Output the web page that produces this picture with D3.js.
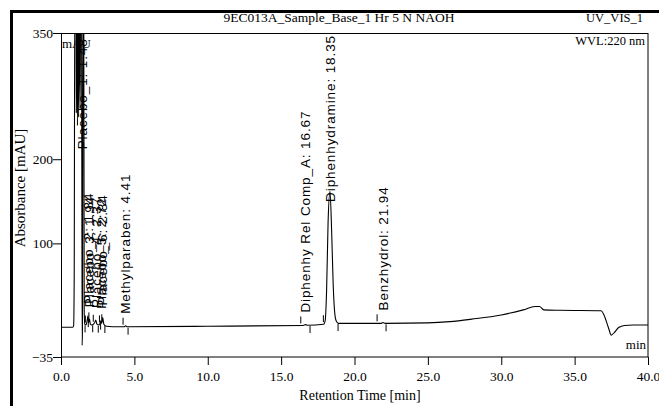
<!DOCTYPE html>
<html>
<head>
<meta charset="utf-8">
<script src="https://cdn.jsdelivr.net/npm/d3@7"></script>
<style>
  body { margin: 0; background: #fff; }
  svg { display: block; }
  .serif { font-family: "Liberation Serif", "Times New Roman", serif; }
  .lab { font-family: "Liberation Sans", Arial, sans-serif; font-size: 13.5px; letter-spacing: 0.9px; }
</style>
</head>
<body>
<div id="chart"></div>
<script>
// chromatogramme UV 220 nm

const width = 659;
const height = 406;

// trace : temps (min) et absorbance (mAU), 400 = hors échelle
const traceTime = [0.0, 0.80, 0.86, 0.90, 0.94, 1.02, 1.04, 1.08, 1.12, 1.16, 1.20, 1.24, 1.30, 1.34, 1.40,
  1.44, 1.46, 1.50, 1.55, 1.58, 1.62, 1.70, 1.80, 1.84, 1.88, 1.94, 2.00, 2.10, 2.30, 2.37, 2.45, 2.60,
  2.68, 2.72, 2.78, 2.84, 2.92, 3.10, 3.50, 4.30, 4.41, 4.50, 10.0, 16.5, 16.67, 16.8, 17.9, 18.0, 18.1,
  18.2, 18.33, 18.45, 18.55, 18.65, 18.75, 18.9, 21.8, 21.94, 22.1, 25.0, 26.5, 28.0, 30.0, 31.5, 32.3,
  32.6, 32.9, 34.0, 36.8, 37.0, 37.3, 37.5, 37.7, 38.0, 38.4, 39.0, 40.0];
const traceAbs = [0.3, 0.3, 2, 60, 400, 400, 255, 400, 240, 400, 250, 400, 260, 400, 400,
  -21, -5, 400, 400, 20, 4, 3, 10, 14, 6, 10, 4, 3, 6, 9, 4, 3,
  6, 8, 5, 12, 4, 1.5, 1, 1, 2, 1, 1.5, 2.5, 3.5, 2.8, 4, 8, 45,
  125, 162, 110, 50, 18, 8, 5, 5, 6, 5, 5.5, 7, 10, 15, 21, 25,
  25, 21, 20.5, 20, 15, 0, -9, -6, 0, 2.5, 3, 3];

// pics identifiés
const peakNames = ["Placebo_1", "Placebo_2", "Placebo_3", "Placebo_4", "Placebo_5", "Placebo_6",
  "Methylparaben", "Diphenhy Rel Comp_A", "Diphenhydramine", "Benzhydrol"];
const peakTimes = [1.48, 1.84, 1.94, 2.37, 2.72, 2.84, 4.41, 16.67, 18.35, 21.94];

// repères de début (vers le haut) et de fin (vers le bas) de pic
const peakStarts = [1.66, 1.90, 2.20, 2.62, 2.78, 4.23, 16.34, 17.88, 21.54];
const peakEnds = [1.64, 1.86, 2.16, 2.54, 2.70, 2.99, 4.57, 16.97, 18.88, 22.15];

// graduations
const xMajor = [0, 5, 10, 15, 20, 25, 30, 35, 40];
const xMinor = d3.range(0, 41, 1);
const yMajor = [350, 200, 100, -35];
const yMinor = [-25, 0, 25, 50, 75, 125, 150, 175, 225, 250, 275, 300, 325];

const trace = traceTime.map((t, i) => ({ t: t, v: traceAbs[i] }));

const svg = d3.select("#chart").append("svg")
  .attr("width", width)
  .attr("height", height);

const x = d3.scaleLinear().domain([0, 40]).range([61, 648]);
const y = d3.scaleLinear().domain([-35, 350]).range([357, 33]);

// valeur du signal à un temps donné (pour placer repères et étiquettes)
const bis = d3.bisector(d => d.t).left;
function valueAt(t) {
  const i = Math.max(1, Math.min(trace.length - 1, bis(trace, t)));
  const a = trace[i - 1], b = trace[i];
  return a.v + (b.v - a.v) * (t - a.t) / (b.t - a.t);
}

// cadre extérieur (scan)
svg.append("line").attr("x1", 10).attr("x2", width).attr("y1", 11.5).attr("y2", 11.5)
  .attr("stroke", "#000").attr("stroke-width", 3);
svg.append("line").attr("x1", 11.5).attr("x2", 11.5).attr("y1", 10).attr("y2", height)
  .attr("stroke", "#000").attr("stroke-width", 3);

svg.append("defs").append("clipPath").attr("id", "plot")
  .append("rect").attr("x", 61).attr("y", 33).attr("width", 587).attr("height", 324);

// cadre du graphique
svg.append("rect")
  .attr("x", 61.5).attr("y", 33.5).attr("width", 586.5).attr("height", 323.5)
  .attr("fill", "none").attr("stroke", "#000").attr("stroke-width", 1);

// axes
const gx = svg.append("g").attr("class", "serif").attr("transform", "translate(0,357)");
gx.call(d3.axisBottom(x).tickValues(xMinor).tickSize(4).tickFormat(""));
gx.call(d3.axisBottom(x).tickValues(xMajor).tickSize(8).tickFormat(d3.format(".1f")));
gx.selectAll(".domain").remove();
gx.selectAll("text").attr("font-size", 13.5).attr("font-family", "Liberation Serif").attr("dy", "0.95em");

const gy = svg.append("g").attr("class", "serif").attr("transform", "translate(61,0)");
gy.call(d3.axisLeft(y).tickValues(yMinor).tickSize(3).tickFormat(""));
gy.call(d3.axisLeft(y).tickValues(yMajor).tickSize(8).tickFormat(d3.format("d")));
gy.selectAll(".domain").remove();
gy.selectAll("text").attr("font-size", 13.5).attr("font-family", "Liberation Serif").attr("x", -8);

// trace
const line = d3.line().x(d => x(d.t)).y(d => y(d.v)).curve(d3.curveMonotoneX);
svg.append("path")
  .datum(trace)
  .attr("clip-path", "url(#plot)")
  .attr("fill", "none")
  .attr("stroke", "#000")
  .attr("stroke-width", 1.1)
  .attr("d", line);

// repères de pics
const marks = svg.append("g").attr("stroke", "#000").attr("stroke-width", 1);
marks.selectAll(".up").data(peakStarts).enter().append("line")
  .attr("x1", d => x(d)).attr("x2", d => x(d))
  .attr("y1", d => y(valueAt(d)) - 2).attr("y2", d => y(valueAt(d)) - 9);
marks.selectAll(".down").data(peakEnds).enter().append("line")
  .attr("x1", d => x(d)).attr("x2", d => x(d))
  .attr("y1", d => y(valueAt(d)) + 1).attr("y2", d => y(valueAt(d)) + 8);

// étiquettes de pics
const labels = svg.append("g").attr("clip-path", "url(#plot)");
peakNames.forEach((name, i) => {
  const t = peakTimes[i];
  const txt = labels.append("text")
    .attr("class", "lab")
    .attr("dy", "0.35em")
    .text(name + ": " + t.toFixed(2));
  const len = txt.node().getComputedTextLength();
  const bottom = Math.max(Math.min(y(valueAt(t)), 356) - 12, 35 + len);
  txt.attr("transform", `translate(${x(t)},${bottom}) rotate(-90)`);
});

// textes
svg.append("text").attr("class", "serif").attr("x", 339).attr("y", 22)
  .attr("text-anchor", "middle").attr("font-size", 13.5)
  .text("9EC013A_Sample_Base_1 Hr 5 N NAOH");
svg.append("text").attr("class", "serif").attr("x", 643).attr("y", 22)
  .attr("text-anchor", "end").attr("font-size", 12.5).text("UV_VIS_1");
svg.append("text").attr("class", "serif").attr("x", 645).attr("y", 45)
  .attr("text-anchor", "end").attr("font-size", 12.5).text("WVL:220 nm");
svg.append("text").attr("class", "serif").attr("x", 62).attr("y", 48)
  .attr("font-size", 13).text("mAU");
svg.append("text").attr("class", "serif").attr("x", 646).attr("y", 349)
  .attr("text-anchor", "end").attr("font-size", 13).text("min");
svg.append("text").attr("class", "serif").attr("x", 360).attr("y", 400)
  .attr("text-anchor", "middle").attr("font-size", 14).text("Retention Time [min]");
svg.append("text").attr("class", "serif")
  .attr("transform", "translate(25,188) rotate(-90)")
  .attr("text-anchor", "middle").attr("font-size", 15).text("Absorbance [mAU]");
</script>
</body>
</html>
